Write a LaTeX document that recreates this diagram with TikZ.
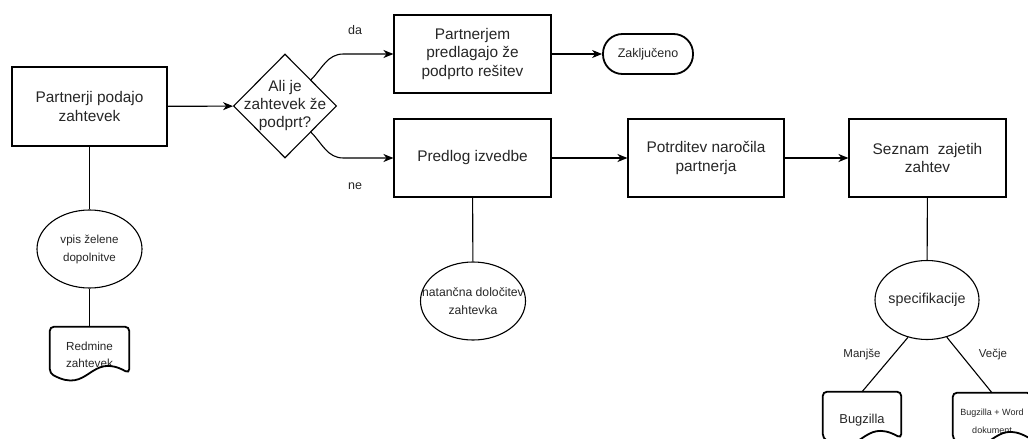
\documentclass[tikz,border=0pt]{standalone}
\usepackage{fontspec}
\setmainfont{Liberation Sans}
\usetikzlibrary{shapes.geometric,arrows.meta}
\tikzset{
  box/.style={draw, line width=1.1pt, minimum width=157pt, minimum height=78pt, inner sep=0pt, align=center, text=black!85, font=\fontsize{15.4}{18.5}\selectfont},
  decision/.style={draw, diamond, line width=1.1pt, minimum width=103pt, minimum height=104pt, inner sep=0pt},
  bigtext/.style={align=center, text=black!85, font=\fontsize{15.4}{18}\selectfont},
  oval/.style={draw, ellipse, line width=1.1pt, minimum width=105pt, minimum height=78pt, inner sep=0pt},
  ovaltext/.style={align=center, text=black!85, font=\fontsize{11.9}{18}\selectfont},
  terminal/.style={draw, line width=1.8pt, rounded corners=19.5pt, minimum width=90pt, minimum height=40pt, inner sep=0pt, text=black!85, font=\fontsize{12.5}{15}\selectfont},
  doc/.style={minimum width=79pt, minimum height=56pt, inner sep=0pt, align=center, text=black!85},
  docline/.style={draw, line width=1.8pt, rounded corners=4pt},
  flow/.style={line width=1.1pt, -{Stealth[length=10pt,width=8pt,inset=3pt]}},
  link/.style={line width=1.1pt},
  tag/.style={text=black!85, font=\fontsize{11.5}{14}\selectfont},
}
\newcommand{\docoutline}[1]{%
  \fill[white] ([yshift=10pt]#1.south east) .. controls ([yshift=32pt]#1.south) and ([yshift=-12pt]#1.south) .. ([yshift=10pt]#1.south west) -- ([yshift=-30pt]#1.south west) -- ([yshift=-30pt]#1.south east) -- cycle;
  \draw[docline] (#1.north west) -- (#1.north east) -- ([yshift=10pt]#1.south east) .. controls ([yshift=32pt]#1.south) and ([yshift=-12pt]#1.south) .. ([yshift=10pt]#1.south west) -- cycle;
}
\begin{document}
\begin{tikzpicture}[x=1pt,y=-1pt]
\useasboundingbox (0,0) rectangle (1028,439);
\clip (0,0) rectangle (1028,439);
\node[box, minimum width=155pt, minimum height=79pt] (req) at (89.5,106.5){Partnerji podajo\\zahtevek};
\node[decision, label={[bigtext]center:Ali je\\zahtevek že\\podprt?}] (q) at (285,106){};
\node[box] (sol) at (472.5,54){Partnerjem\\predlagajo že\\podprto rešitev};
\node[terminal] (done) at (648,54){Zaključeno};
\node[box] (prop) at (472.5,158){Predlog izvedbe};
\node[box, minimum width=156pt] (conf) at (706,158){Potrditev naročila\\partnerja};
\node[box] (list) at (927.5,158){Seznam\ \ zajetih\\zahtev};
\node[oval, label={[ovaltext, font=\fontsize{11.6}{18}\selectfont]center:vpis želene\\dopolnitve}] (wish) at (89.5,249){};
\node[oval, label={[ovaltext, font=\fontsize{12.2}{18}\selectfont]center:natančna določitev\\zahtevka}] (exact) at (473,301){};
\node[oval, minimum width=104pt, minimum height=79pt, label={[ovaltext, font=\fontsize{14.3}{18}\selectfont]center:specifikacije}] (spec) at (927,300){};
\node[doc, font=\fontsize{11.7}{17}\selectfont] (redmine) at (89.5,355){Redmine\\zahtevek};
\node[doc, minimum width=78pt, font=\fontsize{12.9}{15}\selectfont] (bugz) at (862,420){Bugzilla};
\node[doc, minimum width=78pt, font=\fontsize{9}{18}\selectfont] (bugw) at (992,421){Bugzilla + Word\\dokument};
\docoutline{redmine}
\docoutline{bugz}
\docoutline{bugw}
\node[tag, font=\fontsize{12.5}{14}\selectfont] (yes) at (355,30){da};
\node[tag, font=\fontsize{12.5}{14}\selectfont] (no) at (355,186){ne};
\node[tag] (small) at (862,355){Manjše};
\node[tag] (big) at (993,355){Večje};
\draw[flow](req) -- (q);
\draw[flow](q.north east) to[out=45,in=180] ([xshift=-50pt]sol.west) -- (sol.west);
\draw[flow](q.south east) to[out=-45,in=180] ([xshift=-50pt]prop.west) -- (prop.west);
\draw[flow](sol) -- (done);
\draw[flow](prop) -- (conf);
\draw[flow](conf) -- (list);
\draw[link](req) -- (wish);
\draw[link](wish) -- (redmine);
\draw[link](prop) -- (exact);
\draw[link](list) -- (spec);
\draw[link](spec.-117) -- (bugz.north);
\draw[link](spec.-62) -- (bugw.north);
\end{tikzpicture}
\end{document}
